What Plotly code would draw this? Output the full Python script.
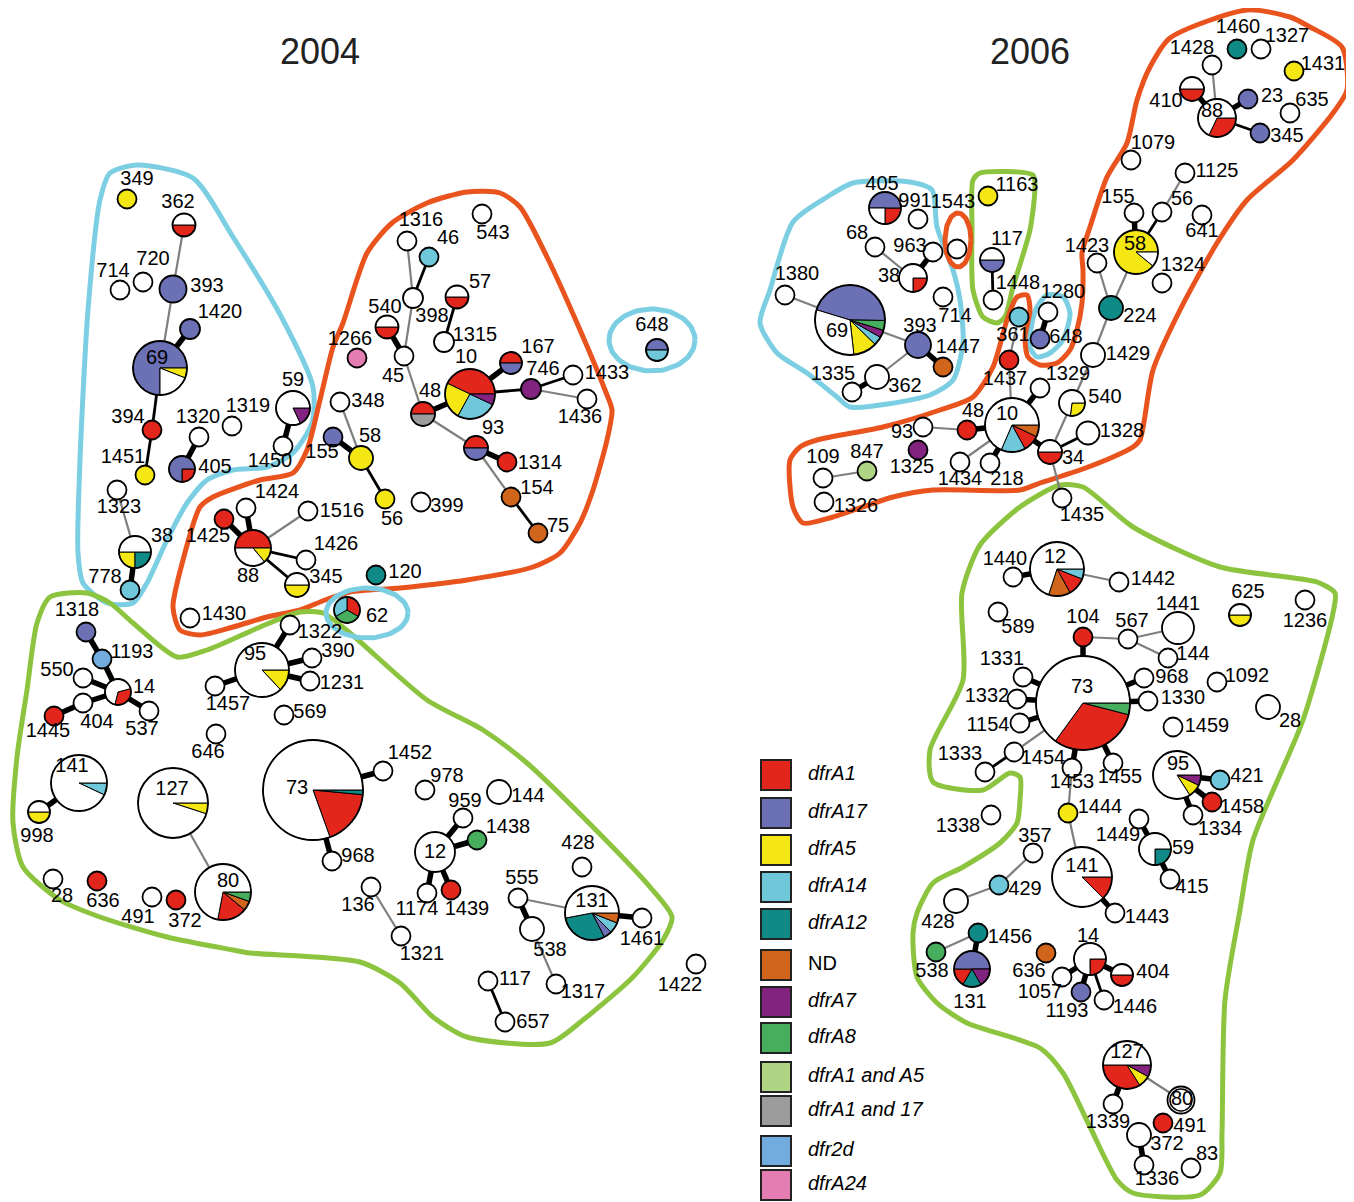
import numpy as np
import plotly.graph_objects as go

# ---------------- colours ----------------
COL = {'red': '#E3261C', 'blue': '#6C70B4', 'yellow': '#F4E713', 'cyan': '#6FC7DA',
       'teal': '#0F8A86', 'orange': '#D2651C', 'purple': '#82247F', 'green': '#47AE5E',
       'lime': '#AFD584', 'gray': '#9C9C9C', 'dfr2d': '#72ABDD', 'pink': '#E47DB1',
       'white': '#FFFFFF'}
HULL = {'cyan': '#7CCFE2', 'orange': '#E8531E', 'green': '#8CC43F'}

# ---------------- 2004 nodes ----------------
ids04 = ['349', '362', '714', '720', '393', '1420', '69', '394', '1451', '1320',
         '405', '1319', '59', '1450', '1323', '38', '778', '155', '1316', '46',
         '543', '57', '540', '398', '1315', '1266', '45', '10', '167', '746',
         '1433', '1436', '48', '93', '1314', '154', '75', '348', '58', '56',
         '399', '1516', '120', '62', '648', '1424', '1425', '88', '1426', '345',
         '1430', '1318', '1193', '550', '14', '404', '1445', '537', '95', '1322',
         '390', '1231', '1457', '569', '646', '141', '998', '127', '80', '28',
         '636', '491', '372', '73', '1452', '968', '978', '144', '959', '1438',
         '12', '1174', '1439', '136', '1321', '428', '555', '131', '1461', '538',
         '1317', '117', '657', '1422']
x04 = [127, 184, 120, 143, 173, 190, 160, 152, 145, 199,
       182, 232, 293, 283, 117, 135, 130, 333, 407, 429,
       482, 457, 387, 413, 444, 357, 404, 470, 511, 531,
       573, 587, 423, 476, 507, 511, 538, 340, 361, 385,
       421, 308, 376, 347, 657, 246, 224, 253, 306, 297,
       190, 86, 102, 83, 118, 83, 54, 149, 262, 290,
       312, 310, 215, 284, 216, 79, 39, 173, 223, 53,
       97, 152, 176, 313, 383, 332, 425, 499, 463, 477,
       435, 427, 451, 371, 401, 582, 518, 592, 642, 532,
       556, 488, 505, 696]
y04 = [199, 225, 290, 282, 289, 329, 368, 430, 475, 437,
       469, 426, 408, 446, 490, 552, 590, 437, 241, 257,
       214, 297, 327, 298, 342, 358, 356, 394, 363, 389,
       375, 399, 414, 448, 462, 497, 533, 402, 458, 499,
       502, 511, 575, 610, 350, 508, 519, 548, 560, 585,
       618, 632, 659, 678, 692, 703, 716, 711, 670, 625,
       658, 681, 686, 715, 734, 783, 812, 803, 892, 879,
       881, 897, 900, 790, 771, 861, 790, 792, 818, 840,
       852, 893, 890, 887, 936, 867, 898, 913, 918, 929,
       984, 981, 1022, 964]
lx04 = [137, 178, 113, 153, 207, 220, 157, 128, 123, 198,
        215, 248, 293, 270, 119, 162, 105, 322, 421, 448,
        493, 480, 385, 432, 475, 350, 393, 466, 538, 543,
        607, 580, 430, 493, 540, 537, 558, 368, 370, 392,
        447, 342, 405, 377, 652, 277, 208, 248, 336, 326,
        224, 77, 132, 57, 144, 97, 48, 142, 255, 320,
        338, 342, 228, 310, 208, 72, 37, 172, 228, 62,
        103, 138, 185, 297, 410, 358, 447, 528, 465, 508,
        435, 417, 467, 358, 422, 578, 522, 592, 642, 550,
        583, 515, 533, 680]
ly04 = [180, 203, 272, 260, 287, 313, 359, 418, 458, 418,
        468, 407, 381, 462, 508, 537, 578, 453, 221, 239,
        234, 283, 308, 317, 336, 340, 377, 358, 348, 370,
        374, 418, 392, 429, 464, 489, 527, 402, 437, 520,
        507, 512, 573, 617, 326, 493, 537, 577, 545, 578,
        615, 611, 653, 671, 688, 723, 732, 730, 655, 633,
        652, 684, 705, 713, 753, 767, 837, 790, 882, 897,
        902, 918, 922, 789, 754, 857, 777, 797, 802, 828,
        853, 910, 910, 906, 955, 844, 879, 902, 940, 951,
        993, 980, 1023, 986]
radius04 = {'362': 11.5, '393': 13.5, '1420': 10, '69': 27, '405': 13, '59': 17, '38': 16,
            '57': 11.5, '540': 11.5, '398': 10, '1315': 10, '10': 25, '167': 11, '746': 10,
            '48': 12, '93': 12, '58': 12, '62': 13, '648': 11, '88': 18, '345': 12, '14': 13,
            '95': 27, '141': 28, '998': 11, '127': 35, '80': 28, '73': 50, '144': 12,
            '12': 20, '131': 27, '538': 12}
fill04 = {'349': 'yellow', '393': 'blue', '1420': 'blue', '394': 'red', '1451': 'yellow',
          '778': 'cyan', '155': 'blue', '46': 'cyan', '1266': 'pink', '746': 'purple',
          '1314': 'red', '154': 'orange', '75': 'orange', '58': 'yellow', '56': 'yellow',
          '120': 'teal', '1425': 'red', '1318': 'blue', '1193': 'dfr2d', '1445': 'red',
          '636': 'red', '372': 'red', '1438': 'green', '1439': 'red'}
# pie: (start angle deg, slices clockwise)
pie04 = {'362': (0, [('red', .5), ('white', .5)]),
         '69': (0, [('yellow', .06), ('white', .19), ('blue', .75)]),
         '405': (0, [('red', .25), ('blue', .75)]),
         '59': (0, [('purple', .18), ('white', .82)]),
         '38': (0, [('teal', .25), ('yellow', .25), ('white', .5)]),
         '57': (0, [('red', .5), ('white', .5)]),
         '540': (0, [('red', .5), ('white', .5)]),
         '10': (0, [('purple', .07), ('cyan', .26), ('yellow', .24), ('red', .43)]),
         '167': (0, [('blue', .5), ('red', .5)]),
         '48': (0, [('gray', .5), ('red', .5)]),
         '93': (0, [('blue', .5), ('red', .5)]),
         '62': (90, [('red', 1 / 3), ('green', 1 / 3), ('cyan', 1 / 3)]),
         '648': (0, [('cyan', .5), ('blue', .5)]),
         '88': (0, [('yellow', .14), ('white', .36), ('red', .5)]),
         '345': (0, [('yellow', .5), ('white', .5)]),
         '14': (15, [('red', .33), ('white', .67)]),
         '95': (0, [('yellow', .13), ('white', .87)]),
         '141': (0, [('cyan', .07), ('white', .93)]),
         '998': (0, [('yellow', .5), ('white', .5)]),
         '127': (0, [('yellow', .05), ('white', .95)]),
         '80': (0, [('green', .055), ('orange', .055), ('red', .17), ('white', .72)]),
         '73': (0, [('teal', .015), ('red', .18), ('white', .805)]),
         '131': (0, [('orange', .06), ('cyan', .065), ('blue', .05), ('teal', .295), ('white', .53)])}

edges04_thick = [('69', '1420'), ('1320', '405'), ('59', '1450'), ('38', '778'), ('540', '45'),
                 ('48', '10'), ('10', '167'), ('93', '1314'), ('155', '58'), ('1425', '88'),
                 ('1424', '88'), ('1318', '1193'), ('1193', '14'), ('550', '14'), ('404', '14'),
                 ('1445', '404'), ('14', '537'), ('95', '1322'), ('95', '390'), ('95', '1231'),
                 ('95', '1457'), ('141', '998'), ('73', '1452'), ('73', '968'), ('12', '959'),
                 ('12', '1438'), ('12', '1174'), ('12', '1439'), ('555', '538'), ('131', '1461')]
edges04_med = [('69', '394'), ('394', '1451'), ('46', '398'), ('57', '1315'), ('10', '746'),
               ('746', '1433'), ('154', '75'), ('58', '56'), ('88', '1426'), ('88', '345'),
               ('117', '657')]
edges04_gray = [('362', '393'), ('393', '69'), ('1323', '38'), ('1316', '398'), ('398', '45'),
                ('45', '48'), ('746', '1436'), ('48', '93'), ('93', '154'), ('348', '58'),
                ('1516', '88'), ('127', '80'), ('136', '1321'), ('555', '131'), ('538', '1317')]

# ---------------- 2006 nodes ----------------
ids06 = ['405', '991', '1543', '1163', '117', '1448', '68', '963', '38', '1380',
         '69', '393', '1447', '714', '362', '1335', '361', '1280', '648', '1437',
         '10', '48', '93', '1325', '1329', '540', '34', '1328', '1434', '218',
         '1435', '1429', '224', '109', '847', '1326', '1460', '1327', '1428', '1431',
         '410', '88', '23', '635', '345', '1079', '1125', '155', '56', '641',
         '58', '1423', '1324', '12', '1440', '1442', '589', '104', '567', '1441',
         '144', '625', '1236', '73', '1331', '1332', '1154', '968', '1330', '1333',
         '1454', '1453', '1455', '1459', '1092', '28', '95', '421', '1458', '1334',
         '1444', '1338', '357', '429', '428', '141', '1443', '1449', '59', '415',
         '1456', '538', '131', '636', '14', '404', '1057', '1193', '1446', '127',
         '80', '1339', '491', '372', '1336', '83']
x06 = [885, 918, 957, 988, 992, 993, 875, 933, 913, 785,
       850, 918, 943, 943, 877, 852, 1019, 1048, 1040, 1009,
       1012, 967, 923, 918, 1040, 1072, 1050, 1088, 960, 990,
       1062, 1093, 1111, 823, 867, 824, 1237, 1261, 1212, 1294,
       1192, 1217, 1248, 1290, 1260, 1131, 1185, 1134, 1162, 1202,
       1136, 1097, 1162, 1057, 1013, 1119, 998, 1083, 1128, 1178,
       1168, 1240, 1305, 1083, 1023, 1017, 1020, 1144, 1148, 985,
       1014, 1072, 1113, 1173, 1217, 1268, 1177, 1220, 1212, 1193,
       1068, 991, 1033, 999, 956, 1082, 1115, 1139, 1155, 1170,
       978, 936, 972, 1046, 1090, 1122, 1062, 1081, 1104, 1127,
       1181, 1113, 1163, 1139, 1144, 1191]
y06 = [208, 219, 249, 196, 260, 300, 247, 252, 278, 295,
       320, 345, 367, 297, 377, 392, 317, 312, 339, 360,
       425, 430, 427, 450, 388, 403, 452, 433, 462, 463,
       498, 355, 308, 478, 471, 502, 49, 49, 65, 71,
       89, 118, 99, 113, 133, 160, 173, 213, 212, 215,
       252, 263, 283, 569, 577, 582, 612, 637, 639, 628,
       658, 615, 600, 703, 677, 699, 723, 678, 701, 772,
       752, 768, 763, 727, 682, 707, 775, 780, 802, 815,
       813, 815, 853, 885, 901, 877, 913, 819, 849, 879,
       933, 952, 969, 953, 959, 975, 977, 992, 1000, 1065,
       1100, 1104, 1123, 1135, 1165, 1168]
lx06 = [882, 915, 953, 1017, 1007, 1018, 857, 910, 889, 797,
        837, 920, 958, 955, 905, 833, 1013, 1063, 1066, 1005,
        1007, 973, 902, 912, 1068, 1105, 1073, 1122, 960, 1007,
        1082, 1128, 1140, 823, 867, 856, 1238, 1287, 1192, 1323,
        1166, 1212, 1272, 1312, 1287, 1153, 1217, 1118, 1182, 1202,
        1135, 1087, 1183, 1055, 1005, 1153, 1018, 1083, 1132, 1178,
        1193, 1248, 1305, 1082, 1002, 987, 988, 1172, 1183, 960,
        1043, 1072, 1120, 1207, 1247, 1290, 1178, 1247, 1242, 1220,
        1100, 958, 1035, 1025, 938, 1082, 1147, 1118, 1183, 1192,
        1010, 932, 970, 1029, 1088, 1153, 1040, 1067, 1135, 1127,
        1182, 1108, 1190, 1167, 1157, 1207]
ly06 = [185, 202, 203, 186, 240, 284, 234, 247, 277, 275,
        332, 327, 348, 317, 387, 375, 336, 293, 338, 380,
        415, 412, 433, 468, 375, 398, 459, 432, 480, 480,
        516, 355, 317, 458, 453, 507, 28, 37, 49, 65,
        102, 112, 97, 101, 137, 144, 172, 198, 200, 232,
        245, 247, 266, 558, 560, 580, 628, 618, 622, 605,
        655, 593, 622, 688, 660, 697, 726, 678, 699, 755,
        759, 783, 778, 727, 677, 722, 765, 777, 808, 830,
        808, 827, 837, 890, 923, 867, 918, 836, 849, 888,
        938, 972, 1003, 972, 937, 973, 993, 1012, 1008, 1053,
        1100, 1123, 1127, 1145, 1180, 1155]
radius06 = {'405': 16, '117': 12, '38': 14, '69': 35, '393': 13, '362': 12, '10': 27,
            '540': 13, '34': 12, '1328': 11.5, '1429': 12, '224': 12, '410': 12, '88': 19,
            '58': 22, '12': 27, '1441': 16, '625': 11, '73': 47, '28': 12, '95': 24,
            '428': 12, '141': 30, '59': 16, '131': 18, '14': 16, '404': 11, '127': 24,
            '80': 13.5, '372': 12}
fill06 = {'1163': 'yellow', '393': 'blue', '1447': 'orange', '361': 'cyan', '648': 'blue',
          '1437': 'red', '48': 'red', '1325': 'purple', '224': 'teal', '847': 'lime',
          '1460': 'teal', '1431': 'yellow', '23': 'blue', '345': 'blue', '104': 'red',
          '421': 'cyan', '1458': 'red', '1444': 'yellow', '429': 'cyan', '1456': 'teal',
          '538': 'green', '636': 'orange', '1193': 'blue', '491': 'red'}
pie06 = {'405': (0, [('red', .25), ('white', .25), ('blue', .5)]),
         '117': (0, [('blue', .5), ('white', .5)]),
         '38': (0, [('red', .25), ('white', .75)]),
         '69': (163, [('blue', .455), ('green', .045), ('purple', .035), ('cyan', .04),
                      ('yellow', .11), ('white', .315)]),
         '10': (0, [('orange', .07), ('red', .1), ('cyan', .145), ('white', .685)]),
         '540': (0, [('yellow', .27), ('white', .73)]),
         '34': (0, [('red', .5), ('white', .5)]),
         '410': (0, [('red', .5), ('white', .5)]),
         '88': (0, [('red', .32), ('white', .68)]),
         '58': (0, [('white', .11), ('yellow', .89)]),
         '12': (0, [('cyan', .06), ('red', .11), ('orange', .13), ('white', .70)]),
         '625': (0, [('yellow', .5), ('white', .5)]),
         '73': (0, [('green', .04), ('red', .31), ('white', .65)]),
         '95': (0, [('purple', .07), ('yellow', .09), ('white', .84)]),
         '141': (0, [('red', .125), ('white', .875)]),
         '59': (0, [('teal', .25), ('white', .75)]),
         '131': (0, [('purple', 1 / 6), ('teal', 1 / 6), ('red', 1 / 6), ('blue', .5)]),
         '14': (0, [('red', .25), ('white', .75)]),
         '404': (0, [('red', .5), ('white', .5)]),
         '127': (0, [('purple', .08), ('yellow', .08), ('red', .34), ('white', .5)])}
double06 = ['80']

edges06_thick = [('963', '38'), ('393', '1447'), ('362', '1335'), ('1280', '648'), ('48', '10'),
                 ('10', '1329'), ('10', '218'), ('10', '34'), ('410', '88'), ('88', '23'),
                 ('58', '155'), ('1440', '12'), ('104', '73'), ('73', '1331'), ('73', '1332'),
                 ('73', '1154'), ('73', '1453'), ('73', '1455'), ('73', '968'), ('73', '1330'),
                 ('95', '421'), ('95', '1458'), ('95', '1334'), ('141', '1443'), ('1449', '59'),
                 ('59', '415'), ('1456', '131'), ('14', '404'), ('14', '1057'), ('14', '1193'),
                 ('127', '1339'), ('372', '1336')]
edges06_med = [('117', '1448'), ('34', '1328'), ('88', '345'), ('58', '56'), ('1454', '1333'),
               ('14', '1446')]
edges06_gray = [('68', '38'), ('1380', '69'), ('69', '393'), ('393', '362'), ('361', '1437'),
                ('1437', '10'), ('93', '48'), ('10', '1434'), ('34', '540'), ('540', '1429'),
                ('1429', '224'), ('34', '1435'), ('224', '1423'), ('224', '58'), ('109', '847'),
                ('1428', '88'), ('56', '1125'), ('12', '1442'), ('104', '567'), ('567', '1441'),
                ('567', '144'), ('73', '1454'), ('1453', '1444'), ('1444', '141'), ('357', '429'),
                ('429', '428'), ('538', '1456'), ('127', '80')]

# ---------------- group outlines ----------------
hull04_cyan_x = [110, 137, 193, 233, 283, 313, 312, 293, 267, 233, 207, 187, 167, 147, 133, 107, 83, 78, 80, 88, 100]
hull04_cyan_y = [173, 165, 178, 237, 320, 387, 423, 453, 467, 470, 480, 503, 540, 583, 603, 603, 583, 553, 460, 310, 200]
hull04_orange_x = [180, 200, 233, 267, 300, 325, 350, 400, 467, 533, 560, 580, 593, 607, 612, 605, 577, 547, 520, 500,
                   467, 427, 392, 367, 343, 333, 320, 307, 293, 260, 213, 200, 183, 173]
hull04_orange_y = [630, 635, 627, 617, 610, 600, 592, 588, 580, 567, 553, 523, 490, 440, 410, 390, 323, 257, 207, 193,
                   192, 203, 223, 253, 323, 347, 400, 450, 473, 480, 497, 507, 560, 607]
hull04_green_x = [50, 87, 110, 133, 177, 207, 260, 300, 323, 350, 427, 483, 527, 583, 650, 672, 663, 633, 583, 550,
                  467, 433, 400, 360, 250, 233, 167, 100, 60, 23, 13, 17, 27, 37]
hull04_green_y = [597, 593, 603, 623, 657, 650, 627, 612, 613, 633, 700, 730, 763, 817, 887, 917, 940, 977, 1020, 1043,
                  1037, 1017, 983, 962, 953, 950, 937, 917, 900, 867, 823, 757, 690, 623]
ell04_cyan = [(652, 340, 43, 31), (367, 613, 41, 25)]   # cx, cy, rx, ry

hull06_cyan_x = [760, 770, 793, 827, 853, 910, 932, 937, 953, 960, 963, 953, 930, 850, 837, 807, 777]
hull06_cyan_y = [323, 290, 222, 197, 183, 182, 190, 227, 270, 300, 343, 380, 395, 407, 397, 373, 353]
hull06_green_small_x = [980, 1033, 1035, 1030, 1013, 1005, 997, 983, 973, 972, 973]
hull06_green_small_y = [173, 175, 187, 230, 287, 317, 323, 317, 290, 227, 180]
hull06_cyan_small_x = [1037, 1047, 1063, 1070, 1063, 1050, 1037, 1030, 1032]
hull06_cyan_small_y = [307, 295, 297, 313, 340, 353, 357, 347, 323]
hull06_orange_x = [1170, 1247, 1290, 1310, 1342, 1347, 1333, 1293, 1247, 1217, 1180, 1153, 1140, 1133, 1113, 1080,
                   1040, 1020, 933, 893, 833, 803, 793, 790, 800, 817, 883, 940, 973, 993, 1007, 1017, 1027,
                   1030, 1025, 1028, 1040, 1057, 1070, 1077, 1082, 1083, 1082, 1090, 1107, 1127, 1137, 1150]
hull06_orange_y = [38, 10, 17, 27, 47, 90, 113, 160, 200, 243, 310, 370, 440, 447, 457, 470,
                   483, 490, 490, 497, 517, 523, 507, 460, 447, 440, 427, 410, 397, 367, 320, 297, 295,
                   310, 337, 357, 365, 363, 350, 330, 303, 270, 253, 227, 177, 143, 100, 67]
hull06_green_x = [1060, 1083, 1133, 1220, 1317, 1335, 1333, 1303, 1253, 1240, 1225, 1222, 1220, 1200, 1133, 1117,
                  1090, 1063, 1040, 967, 937, 917, 913, 917, 933, 963, 1000, 1017, 1020, 1020, 1010, 983, 933,
                  930, 963, 962, 980, 1020]
hull06_green_y = [485, 487, 527, 567, 582, 593, 613, 720, 840, 910, 1000, 1133, 1173, 1195, 1193, 1180,
                  1127, 1073, 1048, 1023, 1003, 977, 933, 913, 883, 867, 843, 823, 800, 777, 773, 790, 782,
                  750, 680, 593, 545, 507]
ell06_orange = [(958, 240, 13, 27)]

# ---------------- legend ----------------
legend_keys = ['red', 'blue', 'yellow', 'cyan', 'teal', 'orange', 'purple', 'green', 'lime', 'gray', 'dfr2d', 'pink']
legend_text = ['<i>dfrA1</i>', '<i>dfrA17</i>', '<i>dfrA5</i>', '<i>dfrA14</i>', '<i>dfrA12</i>', 'ND',
               '<i>dfrA7</i>', '<i>dfrA8</i>', '<i>dfrA1 and A5</i>', '<i>dfrA1 and 17</i>',
               '<i>dfr2d</i>', '<i>dfrA24</i>']
legend_y = [775, 813, 850, 887, 924, 965, 1002, 1038, 1077, 1111, 1151, 1185]
legend_x = 776
titles = ['2004', '2006']
title_x = [320, 1030]
title_y = [55, 55]

FONT = 'Liberation Sans, Arial, sans-serif'
PAGE_OFFSET = 8   # default body margin of the html page

for ids, xs, ys, lxs, lys in [(ids04, x04, y04, lx04, ly04), (ids06, x06, y06, lx06, ly06)]:
    assert len(ids) == len(xs) == len(ys) == len(lxs) == len(lys), len(ids)

fig = go.Figure()


def add_closed(xs, ys, color):
    fig.add_trace(go.Scatter(x=list(xs) + [xs[0]], y=list(ys) + [ys[0]], mode='lines',
                             line=dict(color=color, width=5, shape='spline', smoothing=0.7),
                             hoverinfo='skip'))


def add_ellipse(cx, cy, rx, ry, color):
    t = np.linspace(0, 2 * np.pi, 80)
    fig.add_trace(go.Scatter(x=cx + rx * np.cos(t), y=cy + ry * np.sin(t), mode='lines',
                             line=dict(color=color, width=5), hoverinfo='skip'))


# outlines
add_closed(hull04_cyan_x, hull04_cyan_y, HULL['cyan'])
add_closed(hull04_orange_x, hull04_orange_y, HULL['orange'])
add_closed(hull04_green_x, hull04_green_y, HULL['green'])
for e in ell04_cyan:
    add_ellipse(*e, HULL['cyan'])
add_closed(hull06_cyan_x, hull06_cyan_y, HULL['cyan'])
add_closed(hull06_green_small_x, hull06_green_small_y, HULL['green'])
add_closed(hull06_cyan_small_x, hull06_cyan_small_y, HULL['cyan'])
add_closed(hull06_orange_x, hull06_orange_y, HULL['orange'])
add_closed(hull06_green_x, hull06_green_y, HULL['green'])
for e in ell06_orange:
    add_ellipse(*e, HULL['orange'])

panels = [
    dict(ids=ids04, x=x04, y=y04, lx=lx04, ly=ly04, r=radius04, fill=fill04, pie=pie04,
         thick=edges04_thick, med=edges04_med, gray=edges04_gray, double=[]),
    dict(ids=ids06, x=x06, y=y06, lx=lx06, ly=ly06, r=radius06, fill=fill06, pie=pie06,
         thick=edges06_thick, med=edges06_med, gray=edges06_gray, double=double06),
]

# edges
for style, color, width in [('gray', '#7F7F7F', 2.2), ('med', '#000000', 2.8), ('thick', '#000000', 5.5)]:
    ex, ey = [], []
    for p in panels:
        pos = {i: (xx, yy) for i, xx, yy in zip(p['ids'], p['x'], p['y'])}
        for a, b in p[style]:
            ex += [pos[a][0], pos[b][0], None]
            ey += [pos[a][1], pos[b][1], None]
    fig.add_trace(go.Scatter(x=ex, y=ey, mode='lines', line=dict(color=color, width=width),
                             hoverinfo='skip'))

# solid nodes
sx, sy, ss, sc = [], [], [], []
for p in panels:
    for i, xx, yy in zip(p['ids'], p['x'], p['y']):
        if i in p['pie']:
            continue
        sx.append(xx)
        sy.append(yy)
        ss.append(2 * p['r'].get(i, 9.5))
        sc.append(COL[p['fill'].get(i, 'white')])
fig.add_trace(go.Scatter(x=sx, y=sy, mode='markers',
                         marker=dict(size=ss, color=sc, opacity=1, line=dict(color='black', width=1.8)),
                         hoverinfo='skip'))

# pie slices
polys = {k: ([], []) for k in COL}
ox, oy, osz = [], [], []
for p in panels:
    for i, xx, yy in zip(p['ids'], p['x'], p['y']):
        if i not in p['pie']:
            continue
        r = p['r'].get(i, 9.5)
        a = p['pie'][i][0]
        for ck, frac in p['pie'][i][1]:
            a1 = a - 360 * frac
            n = max(int(abs(a - a1) / 3) + 2, 3)
            th = np.radians(np.linspace(a, a1, n))
            px = [xx] + list(xx + r * np.cos(th)) + [xx, None]
            py = [yy] + list(yy - r * np.sin(th)) + [yy, None]
            polys[ck][0].extend(px)
            polys[ck][1].extend(py)
            a = a1
        ox.append(xx)
        oy.append(yy)
        osz.append(2 * r)
for ck, (px, py) in polys.items():
    if not px:
        continue
    fig.add_trace(go.Scatter(x=px, y=py, mode='lines', fill='toself', fillcolor=COL[ck],
                             line=dict(color='black', width=1), hoverinfo='skip'))
fig.add_trace(go.Scatter(x=ox, y=oy, mode='markers',
                         marker=dict(size=osz, color='rgba(0,0,0,0)', opacity=1,
                                     line=dict(color='black', width=1.8)),
                         hoverinfo='skip'))
# double ring nodes
dx, dy, ds = [], [], []
for p in panels:
    for i, xx, yy in zip(p['ids'], p['x'], p['y']):
        if i in p['double']:
            dx.append(xx)
            dy.append(yy)
            ds.append(2 * p['r'].get(i, 9.5) - 5)
if dx:
    fig.add_trace(go.Scatter(x=dx, y=dy, mode='markers',
                             marker=dict(size=ds, color='rgba(0,0,0,0)', opacity=1,
                                         line=dict(color='black', width=1.5)),
                             hoverinfo='skip'))

# node labels
for p in panels:
    fig.add_trace(go.Scatter(x=p['lx'], y=p['ly'], mode='text', text=p['ids'],
                             textposition='middle center',
                             textfont=dict(family=FONT, size=20, color='black'), hoverinfo='skip'))

# legend
fig.add_trace(go.Scatter(x=[legend_x] * len(legend_keys), y=legend_y, mode='markers',
                         marker=dict(symbol='square', size=30, color=[COL[k] for k in legend_keys], opacity=1,
                                     line=dict(color='#222222', width=2)), hoverinfo='skip'))
fig.add_trace(go.Scatter(x=[legend_x + 32] * len(legend_keys), y=legend_y, mode='text', text=legend_text,
                         textposition='middle right',
                         textfont=dict(family=FONT, size=20, color='black'), hoverinfo='skip'))

# titles
fig.add_trace(go.Scatter(x=title_x, y=title_y, mode='text', text=titles, textposition='middle center',
                         textfont=dict(family=FONT, size=36, color='#222222'), hoverinfo='skip'))

W, H = 1354, 1202
fig.update_layout(width=W - PAGE_OFFSET, height=H - PAGE_OFFSET, autosize=False,
                  margin=dict(l=0, r=0, t=0, b=0),
                  paper_bgcolor='white', plot_bgcolor='white', showlegend=False,
                  xaxis=dict(range=[PAGE_OFFSET, W], visible=False, fixedrange=True),
                  yaxis=dict(range=[H, PAGE_OFFSET], visible=False, fixedrange=True))
fig.write_html('out.html')
